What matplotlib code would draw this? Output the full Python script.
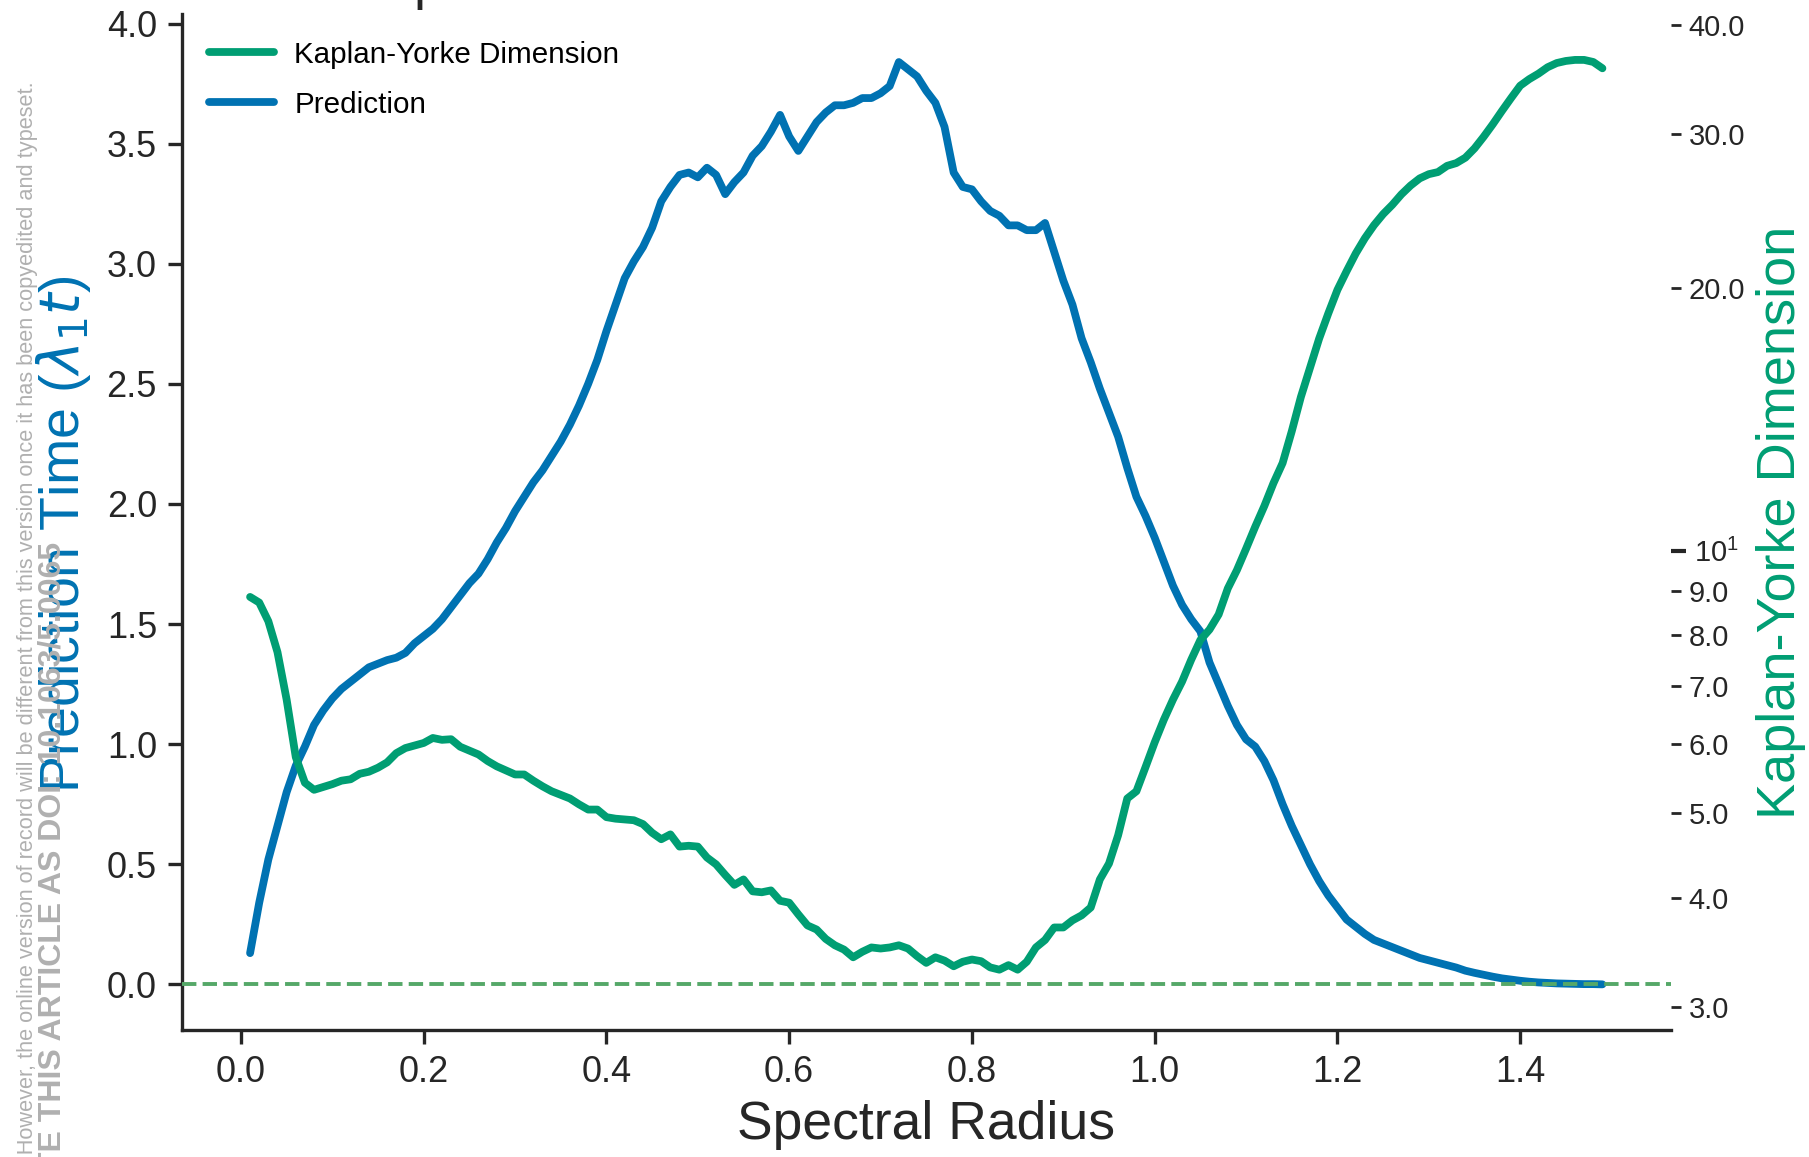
import matplotlib
matplotlib.use("Agg")
import matplotlib.pyplot as plt
from matplotlib.ticker import FixedLocator, FormatStrFormatter, LogLocator

# ---------------- data ----------------
spectral_radius = [
    0.01, 0.02, 0.03, 0.04, 0.05, 0.06, 0.07, 0.08, 0.09, 0.10,
    0.11, 0.12, 0.13, 0.14, 0.15, 0.16, 0.17, 0.18, 0.19, 0.20,
    0.21, 0.22, 0.23, 0.24, 0.25, 0.26, 0.27, 0.28, 0.29, 0.30,
    0.31, 0.32, 0.33, 0.34, 0.35, 0.36, 0.37, 0.38, 0.39, 0.40,
    0.41, 0.42, 0.43, 0.44, 0.45, 0.46, 0.47, 0.48, 0.49, 0.50,
    0.51, 0.52, 0.53, 0.54, 0.55, 0.56, 0.57, 0.58, 0.59, 0.60,
    0.61, 0.62, 0.63, 0.64, 0.65, 0.66, 0.67, 0.68, 0.69, 0.70,
    0.71, 0.72, 0.73, 0.74, 0.75, 0.76, 0.77, 0.78, 0.79, 0.80,
    0.81, 0.82, 0.83, 0.84, 0.85, 0.86, 0.87, 0.88, 0.89, 0.90,
    0.91, 0.92, 0.93, 0.94, 0.95, 0.96, 0.97, 0.98, 0.99, 1.00,
    1.01, 1.02, 1.03, 1.04, 1.05, 1.06, 1.07, 1.08, 1.09, 1.10,
    1.11, 1.12, 1.13, 1.14, 1.15, 1.16, 1.17, 1.18, 1.19, 1.20,
    1.21, 1.22, 1.23, 1.24, 1.25, 1.26, 1.27, 1.28, 1.29, 1.30,
    1.31, 1.32, 1.33, 1.34, 1.35, 1.36, 1.37, 1.38, 1.39, 1.40,
    1.41, 1.42, 1.43, 1.44, 1.45, 1.46, 1.47, 1.48, 1.49,
]

prediction_time = [
    0.13, 0.34, 0.52, 0.66, 0.80, 0.91, 0.99, 1.08, 1.14, 1.19,
    1.23, 1.26, 1.29, 1.32, 1.335, 1.35, 1.36, 1.38, 1.42, 1.45,
    1.48, 1.52, 1.57, 1.62, 1.67, 1.71, 1.77, 1.84, 1.90, 1.97,
    2.03, 2.09, 2.14, 2.20, 2.26, 2.33, 2.41, 2.50, 2.60, 2.72,
    2.83, 2.94, 3.01, 3.07, 3.15, 3.26, 3.32, 3.37, 3.38, 3.36,
    3.40, 3.37, 3.29, 3.34, 3.38, 3.45, 3.49, 3.55, 3.62, 3.53,
    3.47, 3.53, 3.59, 3.63, 3.66, 3.66, 3.67, 3.69, 3.69, 3.71,
    3.74, 3.84, 3.81, 3.78, 3.72, 3.67, 3.57, 3.38, 3.32, 3.31,
    3.26, 3.22, 3.20, 3.16, 3.16, 3.14, 3.14, 3.17, 3.05, 2.93,
    2.83, 2.69, 2.59, 2.48, 2.38, 2.28, 2.15, 2.03, 1.95, 1.86,
    1.76, 1.66, 1.58, 1.52, 1.47, 1.34, 1.25, 1.16, 1.08, 1.02,
    0.99, 0.93, 0.85, 0.75, 0.66, 0.58, 0.50, 0.43, 0.37, 0.32,
    0.27, 0.24, 0.21, 0.185, 0.17, 0.155, 0.14, 0.125, 0.11, 0.10,
    0.09, 0.08, 0.07, 0.057, 0.048, 0.04, 0.032, 0.025, 0.02, 0.015,
    0.011, 0.008, 0.006, 0.004, 0.003, 0.002, 0.001, 0.001, 0.0,
]

ky_dimension = [
    8.85, 8.72, 8.30, 7.65, 6.75, 5.80, 5.42, 5.32, 5.36, 5.40,
    5.45, 5.47, 5.55, 5.58, 5.64, 5.72, 5.86, 5.94, 5.98, 6.02,
    6.10, 6.07, 6.08, 5.96, 5.90, 5.84, 5.74, 5.66, 5.60, 5.54,
    5.54, 5.45, 5.37, 5.30, 5.25, 5.20, 5.12, 5.05, 5.05, 4.95,
    4.93, 4.92, 4.91, 4.86, 4.75, 4.67, 4.73, 4.58, 4.59, 4.58,
    4.45, 4.37, 4.25, 4.14, 4.20, 4.07, 4.06, 4.08, 3.97, 3.95,
    3.83, 3.72, 3.68, 3.59, 3.53, 3.49, 3.42, 3.47, 3.51, 3.50,
    3.51, 3.53, 3.50, 3.43, 3.37, 3.42, 3.39, 3.34, 3.38, 3.40,
    3.385, 3.33, 3.31, 3.35, 3.31, 3.38, 3.51, 3.58, 3.70, 3.70,
    3.77, 3.82, 3.90, 4.20, 4.38, 4.72, 5.20, 5.30, 5.65, 6.03,
    6.40, 6.75, 7.08, 7.50, 7.90, 8.12, 8.45, 9.05, 9.50, 10.05,
    10.65, 11.25, 11.95, 12.6, 13.7, 15.0, 16.2, 17.5, 18.7, 19.9,
    20.9, 21.9, 22.8, 23.6, 24.3, 24.9, 25.6, 26.2, 26.7, 27.0,
    27.15, 27.6, 27.8, 28.2, 28.9, 29.8, 30.8, 31.9, 33.0, 34.1,
    34.7, 35.2, 35.8, 36.2, 36.4, 36.5, 36.5, 36.3, 35.7,
]

x_ticks = [0.0, 0.2, 0.4, 0.6, 0.8, 1.0, 1.2, 1.4]
y_ticks = [0.0, 0.5, 1.0, 1.5, 2.0, 2.5, 3.0, 3.5, 4.0]

legend_labels = ["Kaplan-Yorke Dimension", "Prediction"]
xlabel_text = "Spectral Radius"
ylabel_left = r"Prediction Time ($\lambda_1 t$)"
ylabel_right = "Kaplan-Yorke Dimension"
watermark_1 = ("This is the author's peer reviewed, accepted manuscript. However, the online "
               "version of record will be different from this version once it has been "
               "copyedited and typeset.")
watermark_2 = "PLEASE CITE THIS ARTICLE AS DOI: 10.1063/5.0065"

# ---------------- style ----------------
BLUE = "#0072B2"
GREEN = "#009E73"
DASH_GREEN = "#55A868"
DARK = "#262626"

plt.rcParams["font.family"] = ["Liberation Sans", "DejaVu Sans"]
plt.rcParams["lines.solid_capstyle"] = "round"

W, H = 1809, 1157
fig = plt.figure(figsize=(W / 100, H / 100), dpi=100)
left, right, top, bottom = 182, 1670.5, 14, 1030
ax = fig.add_axes([left / W, 1 - bottom / H, (right - left) / W, (bottom - top) / H])

# left axis: prediction time
line_pred, = ax.plot(spectral_radius, prediction_time, color=BLUE, lw=5.6, zorder=2)
ax.axhline(0.0, color=DASH_GREEN, lw=2.8, ls="--", zorder=3)
ax.set_xlim(-0.0645, 1.5645)
ax.set_ylim(-0.19, 4.04)
ax.xaxis.set_major_locator(FixedLocator(x_ticks))
ax.yaxis.set_major_locator(FixedLocator(y_ticks))
ax.xaxis.set_major_formatter(FormatStrFormatter("%.1f"))
ax.yaxis.set_major_formatter(FormatStrFormatter("%.1f"))
for s in ["top", "right"]:
    ax.spines[s].set_visible(False)
for s in ["left", "bottom"]:
    ax.spines[s].set_linewidth(2.4)
    ax.spines[s].set_color(DARK)
ax.tick_params(axis="both", which="major", length=10, width=2.4, pad=8,
               labelsize=26, color=DARK, labelcolor=DARK, direction="out")
ax.set_xlabel(xlabel_text, fontsize=38.5, color=DARK, labelpad=7)
ax.set_ylabel(ylabel_left, fontsize=40, color=BLUE, labelpad=10)
ax.yaxis.label.set_y(0.4875)

# right axis: Kaplan-Yorke dimension (log)
ax2 = ax.twinx()
line_ky, = ax2.plot(spectral_radius, ky_dimension, color=GREEN, lw=5.6)
ax2.set_yscale("log")
ax2.set_ylim(2.823, 41.2)
for s in ax2.spines.values():
    s.set_visible(False)
ax2.yaxis.set_minor_locator(LogLocator(base=10, subs=[2, 3, 4, 5, 6, 7, 8, 9]))
ax2.yaxis.set_minor_formatter(FormatStrFormatter("%.1f"))
ax2.tick_params(axis="y", which="major", length=11, width=3, pad=6,
                labelsize=21, color=DARK, labelcolor=DARK)
ax2.tick_params(axis="y", which="minor", length=7, width=2, pad=6,
                labelsize=21, color=DARK, labelcolor=DARK)
ax2.set_ylabel(ylabel_right, fontsize=39, color=GREEN, labelpad=8)

ax2.legend([line_ky, line_pred], legend_labels, loc="upper left", frameon=False,
           fontsize=21.3, handlelength=2.2, handletextpad=0.7, labelspacing=0.75)

# clipped title fragment visible at the very top edge
fig.text(414 / W, 1 + 1 / H, "p", fontsize=39, color=DARK, ha="left", va="baseline")

# watermark text on the left margin
fig.text(28 / W, 1 - 81 / H, watermark_1, rotation=90, rotation_mode="anchor",
         ha="right", va="center", fontsize=15.7, color="#b0b0b0")
fig.text(53 / W, 1 - 542 / H, watermark_2, rotation=90, rotation_mode="anchor",
         ha="right", va="center", fontsize=23, fontweight="bold", color="#b0b0b0")

fig.savefig("out.png", dpi=100)
